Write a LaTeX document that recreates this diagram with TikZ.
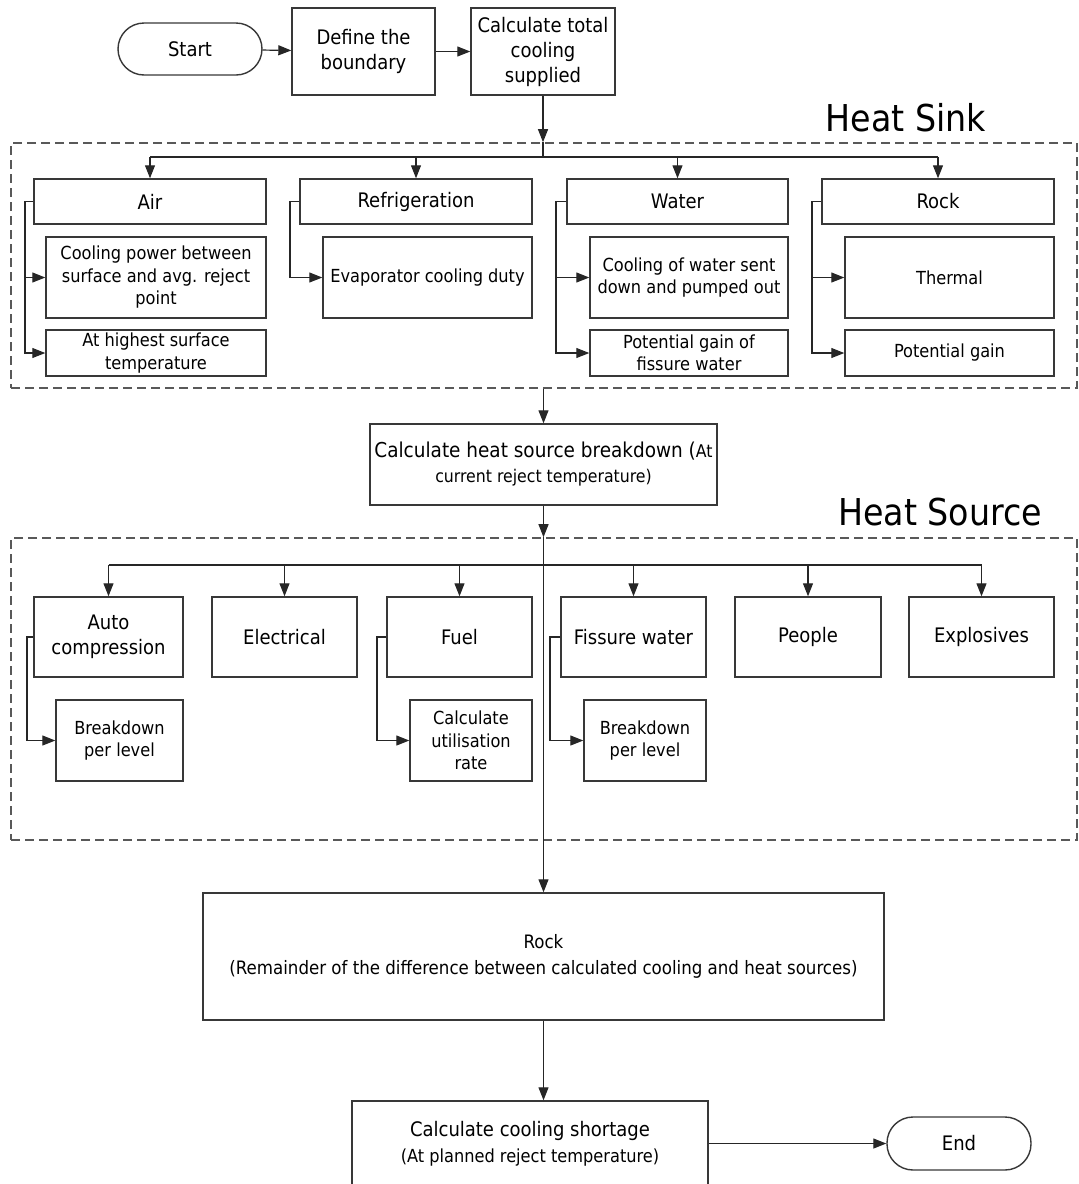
\documentclass[tikz,border=0pt]{standalone}
\usepackage{fontspec}
\setmainfont{DejaVu Sans Condensed}
\usetikzlibrary{arrows.meta}
\newcommand\fsz[2]{\fontsize{#1}{#2}\selectfont}
\begin{document}
\begin{tikzpicture}[x=1pt,y=-1pt,
  box/.style={draw=black!78, line width=1.4pt, align=center, inner sep=2pt, fill=white,
              font=\fsz{20}{25}},
  sbox/.style={box, font=\fsz{18}{22.5}},
  term/.style={box, rounded corners=26pt},
  region/.style={draw=black!65, line width=1.6pt, dash pattern=on 9pt off 5pt},
  ttl/.style={font=\fsz{37}{42}, inner sep=0pt},
  ln/.style={draw=black!85, line width=1.2pt},
  arr/.style={ln, -{Triangle[length=13pt,width=10pt]}}
]
\useasboundingbox (0,0) rectangle (1079,1184);
\clip (0,0) rectangle (1079,1184);

% top row
\node[term, minimum width=144pt, minimum height=52pt] (start) at (190,49) {Start};
\node[box, minimum width=143pt, minimum height=87pt] (define) at (363.5,51.5) {Define the\\boundary};
\node[box, minimum width=144pt, minimum height=87pt] (calc) at (543,51.5) {Calculate total\\cooling\\supplied};
\draw[arr] (start) -- (define);
\draw[arr] (define) -- (calc);

% heat sink region
\node[ttl] (sinklbl) at (906,118) {Heat Sink};
\node[region, minimum width=1066pt, minimum height=245pt] (sink) at (544,265.5) {};
\draw[arr] (calc) -- (calc.south |- sink.north);
\coordinate (sinkhub) at (543,157);
\draw[ln] (calc.south |- sink.north) -- (sinkhub);

\node[box, minimum width=232pt, minimum height=45pt] (air) at (150,201.5) {Air};
\node[sbox, minimum width=220pt, minimum height=81pt] (air1) at (156,277.5) {Cooling power between\\surface and avg. reject\\point};
\node[sbox, minimum width=220pt, minimum height=46pt] (air2) at (156,353) {At highest surface\\temperature};

\node[box, minimum width=232pt, minimum height=45pt] (ref) at (416,201.5) {Refrigeration};
\node[sbox, minimum width=209pt, minimum height=81pt] (ref1) at (427.5,277.5) {Evaporator cooling duty};

\node[box, minimum width=221pt, minimum height=45pt] (water) at (677.5,201.5) {Water};
\node[sbox, minimum width=198pt, minimum height=81pt] (water1) at (689,277.5) {Cooling of water sent\\down and pumped out};
\node[sbox, minimum width=198pt, minimum height=46pt] (water2) at (689,353) {Potential gain of\\fissure water};

\node[box, minimum width=232pt, minimum height=45pt] (rock) at (938,201.5) {Rock};
\node[sbox, minimum width=209pt, minimum height=81pt] (rock1) at (949.5,277.5) {Thermal};
\node[sbox, minimum width=209pt, minimum height=46pt] (rock2) at (949.5,353) {Potential gain};

\draw[ln] (air.north |- sinkhub) -- (rock.north |- sinkhub);
\foreach \n in {air,ref,water,rock}
  \draw[arr] (\n.north |- sinkhub) -- (\n.north);

\draw[arr] (air.west) -- (25,201.5) |- (air1.west);
\draw[arr] (25,201.5) |- (air2.west);
\draw[arr] (ref.west) -- (290,201.5) |- (ref1.west);
\draw[arr] (water.west) -- (556,201.5) |- (water1.west);
\draw[arr] (556,201.5) |- (water2.west);
\draw[arr] (rock.west) -- (812,201.5) |- (rock1.west);
\draw[arr] (812,201.5) |- (rock2.west);

% heat source breakdown
\node[box, minimum width=347pt, minimum height=81pt, font=\fsz{17.5}{25}] (hsb) at (543.5,464.5)
  {{\fsz{20.5}{25}\selectfont Calculate heat source breakdown (}At\\current reject temperature)};
\draw[arr] (hsb.north |- sink.south) -- (hsb.north);

% heat source region
\node[ttl] (srclbl) at (940,512) {Heat Source};
\node[region, minimum width=1066pt, minimum height=302pt] (src) at (544,689) {};
\draw[arr] (hsb) -- (hsb.south |- src.north);
\coordinate (srchub) at (543.5,565);

\node[box, minimum width=149pt, minimum height=80pt] (auto) at (108.5,637) {Auto\\compression};
\node[box, minimum width=145pt, minimum height=80pt] (elec) at (284.5,637) {Electrical};
\node[box, minimum width=145pt, minimum height=80pt] (fuel) at (459.5,637) {Fuel};
\node[box, minimum width=145pt, minimum height=80pt] (fiss) at (633.5,637) {Fissure water};
\node[box, minimum width=146pt, minimum height=80pt] (people) at (808,637) {People};
\node[box, minimum width=145pt, minimum height=80pt] (expl) at (981.5,637) {Explosives};

\node[sbox, minimum width=127pt, minimum height=81pt] (auto1) at (119.5,740.5) {Breakdown\\per level};
\node[sbox, minimum width=122pt, minimum height=81pt] (fuel1) at (471,740.5) {Calculate\\utilisation\\rate};
\node[sbox, minimum width=122pt, minimum height=81pt] (fiss1) at (645,740.5) {Breakdown\\per level};

\draw[ln] (auto.north |- srchub) -- (expl.north |- srchub);
\foreach \n in {auto,elec,fuel,fiss,people,expl}
  \draw[arr] (\n.north |- srchub) -- (\n.north);

\draw[arr] (auto.west) -- (27,637) |- (auto1.west);
\draw[arr] (fuel.west) -- (377,637) |- (fuel1.west);
\draw[arr] (fiss.west) -- (550,637) |- (fiss1.west);

% bottom
\node[box, minimum width=681pt, minimum height=127pt, font=\fsz{18.5}{26}] (bigrock) at (543.5,956.5)
  {Rock\\(Remainder of the difference between calculated cooling and heat sources)};
\draw[arr] (hsb.south |- src.north) -- (bigrock.north);

\node[box, minimum width=356pt, minimum height=86pt, font=\fsz{18}{26}] (ccs) at (530,1144)
  {{\fsz{20}{26}\selectfont Calculate cooling shortage}\\(At planned reject temperature)};
\draw[arr] (bigrock.south) -- (bigrock.south |- ccs.north);

\node[term, minimum width=144pt, minimum height=53pt] (end) at (959,1143.5) {End};
\draw[arr] (ccs.east |- end.west) -- (end.west);
\end{tikzpicture}
\end{document}
